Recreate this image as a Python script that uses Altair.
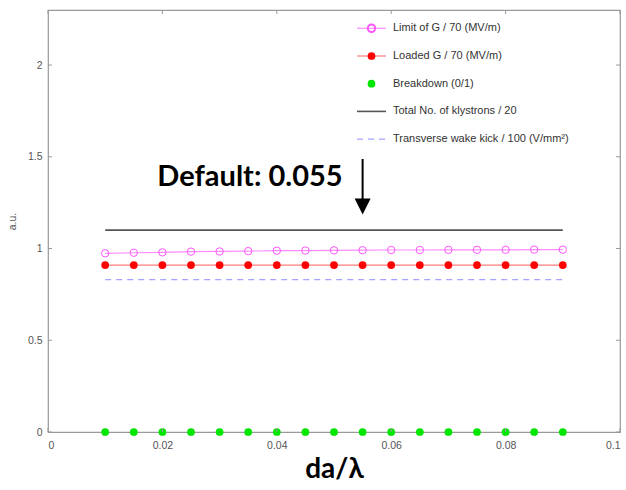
import altair as alt
import pandas as pd

# ---------------- data ----------------
x_vals = [0.01, 0.015, 0.02, 0.025, 0.03, 0.035, 0.04, 0.045, 0.05,
          0.055, 0.06, 0.065, 0.07, 0.075, 0.08, 0.085, 0.09]
limit_g = [0.974, 0.977, 0.979, 0.983, 0.984, 0.986, 0.988, 0.989, 0.990,
           0.991, 0.992, 0.992, 0.993, 0.993, 0.993, 0.994, 0.994]
loaded_g = [0.91, 0.91, 0.91, 0.91, 0.91, 0.91, 0.91, 0.91, 0.91,
            0.91, 0.91, 0.91, 0.91, 0.91, 0.91, 0.91, 0.91]
breakdown = [0, 0, 0, 0, 0, 0, 0, 0, 0, 0, 0, 0, 0, 0, 0, 0, 0]
klystrons = [1.1, 1.1, 1.1, 1.1, 1.1, 1.1, 1.1, 1.1, 1.1,
             1.1, 1.1, 1.1, 1.1, 1.1, 1.1, 1.1, 1.1]
wake_kick = [0.83, 0.83, 0.83, 0.83, 0.83, 0.83, 0.83, 0.83, 0.83,
             0.83, 0.83, 0.83, 0.83, 0.83, 0.83, 0.83, 0.83]

x_ticks = [0, 0.02, 0.04, 0.06, 0.08, 0.1]
y_ticks = [0, 0.5, 1, 1.5, 2]
default_x = 0.055

legend_labels = ["Limit of G / 70 (MV/m)", "Loaded G / 70 (MV/m)", "Breakdown (0/1)",
                 "Total No. of klystrons / 20", "Transverse wake kick / 100 (V/mm\u00b2)"]

# ---------------- layout ----------------
W, H = 572, 422
XD = [0, 0.1]
YD = [0, 2.3]
LABEL_FONT = "Liberation Sans"
GRAY = "#555555"

c_limit_pt = "#ff55ff"
c_limit_ln = "#ff8cff"
c_loaded_pt = "#ff0000"
c_loaded_ln = "#ff7c7c"
c_break = "#00e600"
c_kly = "#555555"
c_kick = "#8c8cff"

df = pd.DataFrame({"x": x_vals, "limit": limit_g, "loaded": loaded_g,
                   "breakdown": breakdown, "kly": klystrons, "kick": wake_kick})

xs = alt.Scale(domain=XD, nice=False, zero=False)
ys = alt.Scale(domain=YD, nice=False, zero=False)

xenc = alt.X("x:Q", scale=xs, axis=alt.Axis(
    values=x_ticks, format="~g", grid=False, domain=False, ticks=False,
    labelFont=LABEL_FONT, labelFontSize=10.5, labelColor=GRAY, labelPadding=8,
    title="da/\u03bb", titleFont="Lato", titleFontSize=28, titleFontWeight="bold",
    titleColor="#000000", titleY=37, titleBaseline="middle"))


def yenc(field):
    return alt.Y(field + ":Q", scale=ys, axis=alt.Axis(
        values=y_ticks, format="~g", grid=False, domain=False, ticks=False,
        labelFont=LABEL_FONT, labelFontSize=10.5, labelColor=GRAY, labelPadding=6,
        title="a.u.", titleFont=LABEL_FONT, titleFontSize=10.5, titleFontWeight="normal",
        titleColor=GRAY, titleAngle=-90, titleX=-36, titleY=H / 2,
        titleAlign="center", titleBaseline="middle"))


base = alt.Chart(df)

limit_line = base.mark_line(color=c_limit_ln, strokeWidth=1.2, clip=False).encode(x=xenc, y=yenc("limit"))
limit_pts = base.mark_point(shape="circle", filled=False, color=c_limit_pt, size=55,
                            strokeWidth=1, opacity=1, clip=False).encode(x=xenc, y=yenc("limit"))
loaded_line = base.mark_line(color=c_loaded_ln, strokeWidth=1.2, clip=False).encode(x=xenc, y=yenc("loaded"))
loaded_pts = base.mark_circle(color=c_loaded_pt, size=60, opacity=1, clip=False).encode(x=xenc, y=yenc("loaded"))
break_pts = base.mark_circle(color=c_break, size=60, opacity=1, clip=False).encode(x=xenc, y=yenc("breakdown"))
kly_line = base.mark_line(color=c_kly, strokeWidth=1.6, clip=False).encode(x=xenc, y=yenc("kly"))
kick_line = base.mark_line(color=c_kick, strokeWidth=1, strokeDash=[6, 5], clip=False).encode(x=xenc, y=yenc("kick"))

# inward tick marks on all four sides
xt = pd.DataFrame({"t": x_ticks})
yt = pd.DataFrame({"t": y_ticks})
TL = 4
tick_color = "#999999"
xtick_b = alt.Chart(xt).mark_rule(color=tick_color).encode(
    x=alt.X("t:Q", scale=xs), y=alt.value(H), y2=alt.value(H - TL))
xtick_t = alt.Chart(xt).mark_rule(color=tick_color).encode(
    x=alt.X("t:Q", scale=xs), y=alt.value(0), y2=alt.value(TL))
ytick_l = alt.Chart(yt).mark_rule(color=tick_color).encode(
    y=alt.Y("t:Q", scale=ys), x=alt.value(0), x2=alt.value(TL))
ytick_r = alt.Chart(yt).mark_rule(color=tick_color).encode(
    y=alt.Y("t:Q", scale=ys), x=alt.value(W), x2=alt.value(W - TL))

# annotation
one = alt.Data(values=[{}])
ann_text = alt.Chart(one).mark_text(
    text="Default: 0.055", font="Lato", fontSize=29, fontWeight="bold", color="#000000",
    align="right", baseline="middle", dx=-20).encode(
    x=alt.datum(default_x, scale=xs), y=alt.datum(1.39, scale=ys))
ann_shaft = alt.Chart(one).mark_rule(color="#000000", strokeWidth=2).encode(
    x=alt.datum(default_x, scale=xs), y=alt.datum(1.488, scale=ys), y2=alt.datum(1.26))
ann_head = alt.Chart(one).mark_point(
    shape="M-1,-1L1,-1L0,1Z", filled=True, color="#000000", opacity=1, size=256).encode(
    x=alt.datum(default_x, scale=xs), y=alt.datum(1.229, scale=ys))

# manual legend
leg_layers = []
row_y0, row_dy = 18.3, 27.7
sym_x1, sym_x2, sym_cx, txt_x = 309, 338, 323.5, 345
for i, lab in enumerate(legend_labels):
    ry = row_y0 + row_dy * i
    txt = alt.Chart(one).mark_text(text=lab, font=LABEL_FONT, fontSize=11, color="#333333",
                                   align="left", baseline="middle").encode(
        x=alt.value(txt_x), y=alt.value(ry))
    leg_layers.append(txt)
    if i == 0:
        leg_layers.append(alt.Chart(one).mark_rule(color=c_limit_ln, strokeWidth=1.2).encode(
            x=alt.value(sym_x1), x2=alt.value(sym_x2), y=alt.value(ry)))
        leg_layers.append(alt.Chart(one).mark_point(shape="circle", filled=False, color=c_limit_pt,
                                                    size=55, opacity=1).encode(
            x=alt.value(sym_cx), y=alt.value(ry)))
    elif i == 1:
        leg_layers.append(alt.Chart(one).mark_rule(color=c_loaded_ln, strokeWidth=1.2).encode(
            x=alt.value(sym_x1), x2=alt.value(sym_x2), y=alt.value(ry)))
        leg_layers.append(alt.Chart(one).mark_circle(color=c_loaded_pt, size=60, opacity=1).encode(
            x=alt.value(sym_cx), y=alt.value(ry)))
    elif i == 2:
        leg_layers.append(alt.Chart(one).mark_circle(color=c_break, size=60, opacity=1).encode(
            x=alt.value(sym_cx), y=alt.value(ry)))
    elif i == 3:
        leg_layers.append(alt.Chart(one).mark_rule(color=c_kly, strokeWidth=1.6).encode(
            x=alt.value(sym_x1), x2=alt.value(sym_x2), y=alt.value(ry)))
    else:
        leg_layers.append(alt.Chart(one).mark_rule(color=c_kick, strokeWidth=1, strokeDash=[6, 5]).encode(
            x=alt.value(sym_x1), x2=alt.value(sym_x2), y=alt.value(ry)))

chart = alt.layer(
    kly_line, kick_line, limit_line, loaded_line, limit_pts, loaded_pts, break_pts,
    xtick_b, xtick_t, ytick_l, ytick_r, ann_shaft, ann_head, ann_text, *leg_layers
).properties(
    width=W, height=H,
    padding={"left": 48, "top": 10, "right": 6, "bottom": 58},
    autosize=alt.AutoSizeParams(type="none"),
    background="#ffffff",
).configure_view(stroke="#999999", strokeWidth=1.2)

chart.save("out.html", embed_options={"renderer": "svg", "actions": False})
